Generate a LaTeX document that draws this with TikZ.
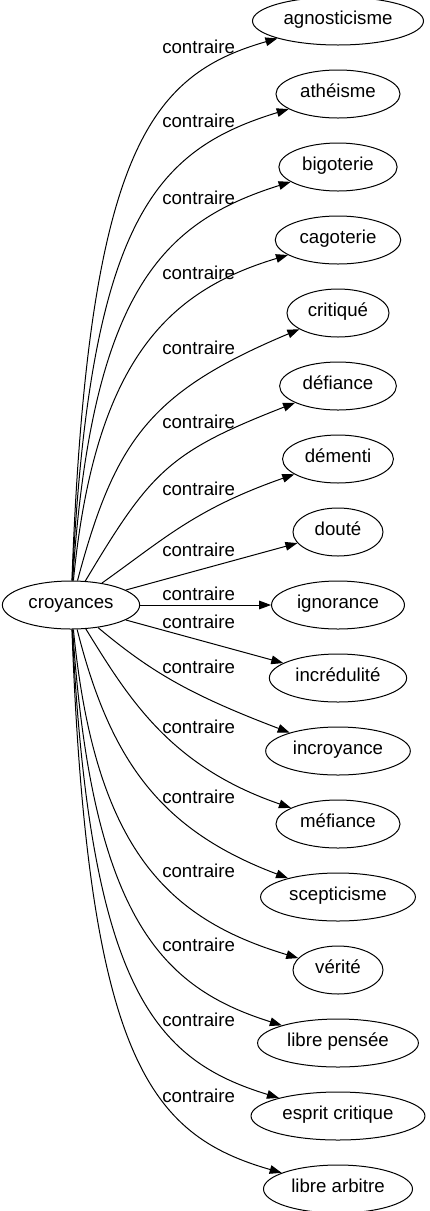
\documentclass[tikz,border=0pt]{standalone}
\usepackage{fontspec}
\setmainfont{Liberation Sans}
\usetikzlibrary{positioning,shapes.geometric,arrows.meta}

\begin{document}
\begin{tikzpicture}[
  x=0.75pt, y=0.75pt,
  node distance=18pt,
  every node/.style={font=\fontsize{14}{16}\selectfont},
  word/.style={draw, ellipse, line width=0.75pt, inner xsep=4.5pt, inner ysep=2pt, minimum width=67.5pt, minimum height=36pt, text height=0.8em, text depth=0.23em},
  rel/.style={anchor=west, inner sep=0pt},
  arrow/.style={-{Triangle[length=9pt,width=6.5pt]}, line width=0.75pt}
]
\useasboundingbox (0,0) rectangle (429,-1211);

% Source
\node[word] (croyances) at (71,-605) {croyances};

% Middle of the column
\node[word] (igno) at (338,-605) {ignorance};

% Upper half
\node[word, above=of igno] (dout) {douté};
\node[word, above=of dout] (deme) {démenti};
\node[word, above=of deme] (defi) {défiance};
\node[word, above=of defi] (crit) {critiqué};
\node[word, above=of crit] (cago) {cagoterie};
\node[word, above=of cago] (bigo) {bigoterie};
\node[word, above=of bigo] (athe) {athéisme};
\node[word, above=of athe] (agno) {agnosticisme};

% Lower half
\node[word, below=of igno] (incr) {incrédulité};
\node[word, below=of incr] (incy) {incroyance};
\node[word, below=of incy] (mefi) {méfiance};
\node[word, below=of mefi] (scep) {scepticisme};
\node[word, below=of scep] (veri) {vérité};
\node[word, below=of veri] (libp) {libre pensée};
\node[word, below=of libp] (espc) {esprit critique};
\node[word, below=of espc] (liba) {libre arbitre};

% Edge labels
\node[rel] (l-agno) at (162,-47) {contraire};
\node[rel] (l-athe) at (162,-121) {contraire};
\node[rel] (l-bigo) at (162,-198) {contraire};
\node[rel] (l-cago) at (162,-273) {contraire};
\node[rel] (l-crit) at (162,-348) {contraire};
\node[rel] (l-defi) at (162,-422) {contraire};
\node[rel] (l-deme) at (162,-489) {contraire};
\node[rel] (l-dout) at (162,-550) {contraire};
\node[rel] (l-igno) at (162,-594) {contraire};
\node[rel] (l-incr) at (162,-622) {contraire};
\node[rel] (l-incy) at (162,-667) {contraire};
\node[rel] (l-mefi) at (162,-727) {contraire};
\node[rel] (l-scep) at (162,-797) {contraire};
\node[rel] (l-veri) at (162,-871) {contraire};
\node[rel] (l-libp) at (162,-945) {contraire};
\node[rel] (l-espc) at (162,-1020) {contraire};
\node[rel] (l-liba) at (162,-1096) {contraire};

% Arrows
\draw[arrow] (croyances) .. controls (88,-150) and (150,-75) .. (agno);
\draw[arrow] (croyances) .. controls (90,-220) and (155,-150) .. (athe);
\draw[arrow] (croyances) .. controls (92,-290) and (163,-222) .. (bigo);
\draw[arrow] (croyances) .. controls (95,-360) and (168,-291) .. (cago);
\draw[arrow] (croyances) .. controls (115,-440) and (150,-392) .. (crit);
\draw[arrow] (croyances) .. controls (151,-471) and (169,-452) .. (defi);
\draw[arrow] (croyances) .. controls (164,-539) and (195,-509) .. (deme);
\draw[arrow] (croyances) -- (dout);
\draw[arrow] (croyances) -- (igno);
\draw[arrow] (croyances) -- (incr);
\draw[arrow] (croyances) .. controls (150,-671) and (188,-694) .. (incy);
\draw[arrow] (croyances) .. controls (128,-697) and (169,-766) .. (mefi);
\draw[arrow] (croyances) .. controls (110,-760) and (160,-830) .. (scep);
\draw[arrow] (croyances) .. controls (95,-850) and (168,-919) .. (veri);
\draw[arrow] (croyances) .. controls (92,-920) and (163,-988) .. (libp);
\draw[arrow] (croyances) .. controls (90,-990) and (155,-1060) .. (espc);
\draw[arrow] (croyances) .. controls (88,-1060) and (150,-1135) .. (liba);

\end{tikzpicture}
\end{document}
